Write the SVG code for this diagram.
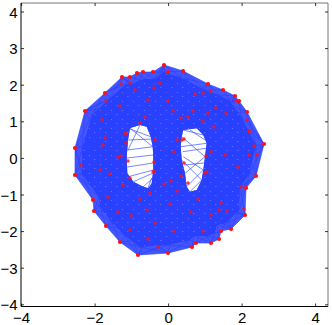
<svg xmlns="http://www.w3.org/2000/svg" width="332" height="325" viewBox="0 0 332 325">
<style>
.ax{stroke:#000;stroke-width:1;fill:none}
.ax2{stroke:#777;stroke-width:1;fill:none}
.tk{stroke:#000;stroke-width:0.8;fill:none}
.lb{font-family:"Liberation Sans",Arial,sans-serif;font-size:15px;fill:#000}
.ring{fill:#2a40ff;fill-opacity:0.88;fill-rule:evenodd}
.core{fill:#2a40ff;fill-rule:evenodd}
.spk{fill:url(#spk);fill-rule:evenodd}
.e{stroke:#2a40ff;stroke-width:0.7;fill:none;stroke-opacity:0.9}
.v{fill:#ff1010}
.w{fill:#ff1010;fill-opacity:0.85}
</style>
<defs>
<pattern id="spk" width="11" height="9" patternUnits="userSpaceOnUse">
<rect x="1" y="2" width="1" height="1" fill="#fff" opacity="0.25"/>
<rect x="6" y="6" width="1.5" height="1" fill="#fff" opacity="0.2"/>
</pattern>
</defs>
<rect width="332" height="325" fill="#fff"/>
<g id="axes">
<line class="ax" x1="21" y1="3" x2="21" y2="306.5"/>
<line class="ax" x1="21" y1="306.5" x2="328" y2="306.5"/>
<line class="ax2" x1="21" y1="3" x2="328" y2="3"/>
<line class="ax2" x1="328" y1="3" x2="328" y2="306.5"/>
<path class="tk" d="M21,12h3M21,48.6h3M21,85.2h3M21,121.8h3M21,158.4h3M21,195h3M21,231.6h3M21,268.2h3M21,304.8h3M328,12h-3M328,48.6h-3M328,85.2h-3M328,121.8h-3M328,158.4h-3M328,195h-3M328,231.6h-3M328,268.2h-3M328,304.8h-3M21.6,306.5v-3M95.1,306.5v-3M168.6,306.5v-3M242.1,306.5v-3M315.6,306.5v-3M21.6,3v3M95.1,3v3M168.6,3v3M242.1,3v3M315.6,3v3"/>
<g class="lb" text-anchor="end">
<text x="17.5" y="17.5">4</text>
<text x="17.5" y="54.1">3</text>
<text x="17.5" y="90.7">2</text>
<text x="17.5" y="127.3">1</text>
<text x="17.5" y="163.9">0</text>
<text x="17.5" y="200.5">−1</text>
<text x="17.5" y="237.1">−2</text>
<text x="17.5" y="273.7">−3</text>
<text x="17.5" y="310.3">−4</text>
</g>
<g class="lb" text-anchor="middle">
<text x="21.6" y="323">−4</text>
<text x="95.1" y="323">−2</text>
<text x="168.6" y="323">0</text>
<text x="242.1" y="323">2</text>
<text x="315.6" y="323">4</text>
</g>
</g>
<g id="connectors">
<path class="ring" d="M164,65 L183,71 L208,84 L223,90 L235,96 L239,101 L247,112 L264,144 L256,176 L246,188 L245,215 L231,229 L221,231 L219,239 L211,243 L196,243 L192,247 L168,253 L138,255 L120,242 L106,226 L94,211 L93,200 L75,175 L75,148 L85,111 L105,93 L122,77 L130,77 L137,73 L143,72 L153,72 Z M140,125 L130,128 L128,140 L126.7,156.7 L127.3,173.3 L133.3,181.7 L143.3,186.7 L148.3,188.3 L151.7,183.3 L153.3,170 L153.3,156.7 L152.7,146.7 L150.7,136.7 L146.7,126.7 Z M183.3,130 L196.7,128.3 L203.3,135 L206.7,143.3 L205,156.7 L203.3,170 L201.7,180 L196.7,190 L190,191.7 L186.7,186.7 L185,173.3 L181.7,160 L180.7,146.7 L181.7,136.7 Z"/>
<path class="core" d="M164,72 L182,78 L205,90 L219,95 L230,101 L233,106 L241,116 L256,145 L249,175 L240,186 L239,210 L226,223 L217,225 L215,233 L208,236 L194,236 L190,240 L168,245 L140,247 L124,235 L111,221 L100,207 L99,197 L82,174 L82,149 L92,115 L110,98 L126,84 L133,84 L140,80 L145,79 L154,79 Z M140,125 L130,128 L128,140 L126.7,156.7 L127.3,173.3 L133.3,181.7 L143.3,186.7 L148.3,188.3 L151.7,183.3 L153.3,170 L153.3,156.7 L152.7,146.7 L150.7,136.7 L146.7,126.7 Z M183.3,130 L196.7,128.3 L203.3,135 L206.7,143.3 L205,156.7 L203.3,170 L201.7,180 L196.7,190 L190,191.7 L186.7,186.7 L185,173.3 L181.7,160 L180.7,146.7 L181.7,136.7 Z"/>
<path class="spk" d="M164,72 L182,78 L205,90 L219,95 L230,101 L233,106 L241,116 L256,145 L249,175 L240,186 L239,210 L226,223 L217,225 L215,233 L208,236 L194,236 L190,240 L168,245 L140,247 L124,235 L111,221 L100,207 L99,197 L82,174 L82,149 L92,115 L110,98 L126,84 L133,84 L140,80 L145,79 L154,79 Z M140,125 L130,128 L128,140 L126.7,156.7 L127.3,173.3 L133.3,181.7 L143.3,186.7 L148.3,188.3 L151.7,183.3 L153.3,170 L153.3,156.7 L152.7,146.7 L150.7,136.7 L146.7,126.7 Z M183.3,130 L196.7,128.3 L203.3,135 L206.7,143.3 L205,156.7 L203.3,170 L201.7,180 L196.7,190 L190,191.7 L186.7,186.7 L185,173.3 L181.7,160 L180.7,146.7 L181.7,136.7 Z"/>
<path class="e" d="M164,65L183,71L208,84L223,90L235,96L239,101L247,112L264,144L256,176L246,188L245,215L231,229L221,231L219,239L211,243L196,243L192,247L168,253L138,255L120,242L106,226L94,211L93,200L75,175L75,148L85,111L105,93L122,77L130,77L137,73L143,72L153,72Z
M164,65L154,79M164,65L182,78M183,71L164,72M183,71L205,90M208,84L182,78M208,84L219,95M223,90L205,90M223,90L230,101M235,96L219,95M235,96L233,106M239,101L230,101M239,101L241,116M247,112L233,106M247,112L256,145M264,144L241,116M264,144L249,175M256,176L256,145M256,176L240,186M246,188L249,175M246,188L239,210M245,215L240,186M245,215L226,223M231,229L239,210M231,229L217,225M221,231L226,223M221,231L215,233M219,239L217,225M219,239L208,236M211,243L215,233M211,243L194,236M196,243L208,236M196,243L190,240M192,247L194,236M192,247L168,245M168,253L190,240M168,253L140,247M138,255L168,245M138,255L124,235M120,242L140,247M120,242L111,221M106,226L124,235M106,226L100,207M94,211L111,221M94,211L99,197M93,200L100,207M93,200L82,174M75,175L99,197M75,175L82,149M75,148L82,174M75,148L92,115M85,111L82,149M85,111L110,98M105,93L92,115M105,93L126,84M122,77L110,98M122,77L133,84M130,77L126,84M130,77L140,80M137,73L133,84M137,73L145,79M143,72L140,80M143,72L154,79M153,72L145,79M153,72L164,72
M264,144L249,131M264,144L254,146M264,144L257,155M264,144L249,155M264,144L247,120M256,176L249,155M256,176L241,187M256,176L238,167M246,188L241,187M246,188L238,167M246,188L227,211M245,215L227,211M245,215L221,203M245,215L244,209M245,215L219,210M231,229L211,215M231,229L219,210M231,229L227,211M211,243L203,231M192,247L174,231M192,247L203,231M168,253L158,247M168,253L148,239M168,253L174,231M138,255L148,239M138,255L158,247M138,255L130,230M138,255L155,223M120,242L130,230M120,242L148,239M106,226L130,230M106,226L118,212M106,226L131,216M94,211L118,212M94,211L108,197M75,175L81,165M75,175L100,170M75,175L110,174M75,175L108,197M75,148L81,165M75,148L100,170M75,148L103,145M75,148L105,138M75,148L102,120M85,111L102,120M85,111L106,101M85,111L120,106M85,111L103,145M105,93L120,106M105,93L106,101M105,93L121,84M122,77L121,84M122,77L135,90M122,77L148,100M164,65L160,83M164,65L154,88M164,65L168,101M183,71L195,94M183,71L168,101M208,84L203,93M208,84L211,91M208,84L195,94M235,96L216,108M235,96L226,113M247,112L226,113M247,112L236,101M247,112L247,120
M130,129L150.7,136.7M128.3,140L152.7,139M127.3,150L153.3,146.7M126.7,158L153.3,155M127.3,167L153.3,163M128.3,176.7L153.3,170M133.3,181.7L152.7,173.3M143,187L153,178M148,188L151.7,178M140,125L128,150M130,128L152.7,146.7
M181.7,136.7L205,156.7M180.7,146.7L206.7,143.3M183.3,156.7L203.3,170M185,173.3L205,156.7M186.7,186.7L203.3,170M181.7,160L201.7,180M182.7,151.7L206,148.3M190,130L205,140M190,191.7L201.7,180M184,165L204,163M183.3,130L203.3,135"/>
</g>
<g id="nodes">
<g id="n1"><circle class="v" cx="164" cy="65" r="2.1"/></g>
<g id="n2"><circle class="v" cx="183" cy="71" r="2.1"/></g>
<g id="n3"><circle class="v" cx="208" cy="84" r="2.1"/></g>
<g id="n4"><circle class="v" cx="223" cy="90" r="2.1"/></g>
<g id="n5"><circle class="v" cx="235" cy="96" r="2.1"/></g>
<g id="n6"><circle class="v" cx="239" cy="101" r="2.1"/></g>
<g id="n7"><circle class="v" cx="247" cy="112" r="2.1"/></g>
<g id="n8"><circle class="v" cx="264" cy="144" r="2.1"/></g>
<g id="n9"><circle class="v" cx="256" cy="176" r="2.1"/></g>
<g id="n10"><circle class="v" cx="246" cy="188" r="2.1"/></g>
<g id="n11"><circle class="v" cx="245" cy="215" r="2.1"/></g>
<g id="n12"><circle class="v" cx="231" cy="229" r="2.1"/></g>
<g id="n13"><circle class="v" cx="221" cy="231" r="2.1"/></g>
<g id="n14"><circle class="v" cx="219" cy="239" r="2.1"/></g>
<g id="n15"><circle class="v" cx="211" cy="243" r="2.1"/></g>
<g id="n16"><circle class="v" cx="196" cy="243" r="2.1"/></g>
<g id="n17"><circle class="v" cx="192" cy="247" r="2.1"/></g>
<g id="n18"><circle class="v" cx="168" cy="253" r="2.1"/></g>
<g id="n19"><circle class="v" cx="138" cy="255" r="2.1"/></g>
<g id="n20"><circle class="v" cx="120" cy="242" r="2.1"/></g>
<g id="n21"><circle class="v" cx="106" cy="226" r="2.1"/></g>
<g id="n22"><circle class="v" cx="94" cy="211" r="2.1"/></g>
<g id="n23"><circle class="v" cx="93" cy="200" r="2.1"/></g>
<g id="n24"><circle class="v" cx="75" cy="175" r="2.1"/></g>
<g id="n25"><circle class="v" cx="75" cy="148" r="2.1"/></g>
<g id="n26"><circle class="v" cx="85" cy="111" r="2.1"/></g>
<g id="n27"><circle class="v" cx="105" cy="93" r="2.1"/></g>
<g id="n28"><circle class="v" cx="122" cy="77" r="2.1"/></g>
<g id="n29"><circle class="v" cx="130" cy="77" r="2.1"/></g>
<g id="n30"><circle class="v" cx="137" cy="73" r="2.1"/></g>
<g id="n31"><circle class="v" cx="143" cy="72" r="2.1"/></g>
<g id="n32"><circle class="v" cx="153" cy="72" r="2.1"/></g>
<g id="n33"><circle class="v" cx="168" cy="72" r="2"/></g>
<g id="n34"><circle class="v" cx="249" cy="131" r="2"/></g>
<g id="n35"><circle class="w" cx="121" cy="84" r="1.7"/></g>
<g id="n36"><circle class="w" cx="130" cy="83" r="1.7"/></g>
<g id="n37"><circle class="w" cx="148" cy="100" r="1.7"/></g>
<g id="n38"><circle class="w" cx="120" cy="106" r="1.7"/></g>
<g id="n39"><circle class="w" cx="106" cy="101" r="1.7"/></g>
<g id="n40"><circle class="w" cx="102" cy="120" r="1.7"/></g>
<g id="n41"><circle class="w" cx="145" cy="117" r="1.7"/></g>
<g id="n42"><circle class="w" cx="126" cy="134" r="1.7"/></g>
<g id="n43"><circle class="w" cx="105" cy="138" r="1.7"/></g>
<g id="n44"><circle class="w" cx="155" cy="140" r="1.7"/></g>
<g id="n45"><circle class="w" cx="103" cy="145" r="1.7"/></g>
<g id="n46"><circle class="w" cx="121" cy="156" r="1.7"/></g>
<g id="n47"><circle class="w" cx="118" cy="157" r="1.7"/></g>
<g id="n48"><circle class="w" cx="135" cy="90" r="1.7"/></g>
<g id="n49"><circle class="w" cx="160" cy="83" r="1.7"/></g>
<g id="n50"><circle class="w" cx="168" cy="101" r="1.7"/></g>
<g id="n51"><circle class="w" cx="154" cy="88" r="1.7"/></g>
<g id="n52"><circle class="w" cx="173" cy="111" r="1.7"/></g>
<g id="n53"><circle class="w" cx="193" cy="111" r="1.7"/></g>
<g id="n54"><circle class="w" cx="208" cy="113" r="1.7"/></g>
<g id="n55"><circle class="w" cx="226" cy="113" r="1.7"/></g>
<g id="n56"><circle class="w" cx="203" cy="121" r="1.7"/></g>
<g id="n57"><circle class="w" cx="214" cy="127" r="1.7"/></g>
<g id="n58"><circle class="w" cx="247" cy="120" r="1.7"/></g>
<g id="n59"><circle class="w" cx="225" cy="155" r="1.7"/></g>
<g id="n60"><circle class="w" cx="211" cy="152" r="1.7"/></g>
<g id="n61"><circle class="w" cx="174" cy="152" r="1.7"/></g>
<g id="n62"><circle class="w" cx="177" cy="140" r="1.7"/></g>
<g id="n63"><circle class="w" cx="184" cy="139" r="1.7"/></g>
<g id="n64"><circle class="w" cx="249" cy="155" r="1.7"/></g>
<g id="n65"><circle class="w" cx="254" cy="146" r="1.7"/></g>
<g id="n66"><circle class="w" cx="257" cy="155" r="1.7"/></g>
<g id="n67"><circle class="w" cx="203" cy="93" r="1.7"/></g>
<g id="n68"><circle class="w" cx="211" cy="91" r="1.7"/></g>
<g id="n69"><circle class="w" cx="195" cy="94" r="1.7"/></g>
<g id="n70"><circle class="w" cx="181" cy="118" r="1.7"/></g>
<g id="n71"><circle class="w" cx="188" cy="117" r="1.7"/></g>
<g id="n72"><circle class="w" cx="216" cy="108" r="1.7"/></g>
<g id="n73"><circle class="w" cx="236" cy="101" r="1.7"/></g>
<g id="n74"><circle class="w" cx="154" cy="162" r="1.7"/></g>
<g id="n75"><circle class="w" cx="154" cy="171" r="1.7"/></g>
<g id="n76"><circle class="w" cx="130" cy="178" r="1.7"/></g>
<g id="n77"><circle class="w" cx="110" cy="174" r="1.7"/></g>
<g id="n78"><circle class="w" cx="100" cy="170" r="1.7"/></g>
<g id="n79"><circle class="w" cx="81" cy="165" r="1.7"/></g>
<g id="n80"><circle class="w" cx="123" cy="185" r="1.7"/></g>
<g id="n81"><circle class="w" cx="147" cy="210" r="1.7"/></g>
<g id="n82"><circle class="w" cx="140" cy="199" r="1.7"/></g>
<g id="n83"><circle class="w" cx="131" cy="216" r="1.7"/></g>
<g id="n84"><circle class="w" cx="118" cy="212" r="1.7"/></g>
<g id="n85"><circle class="w" cx="130" cy="230" r="1.7"/></g>
<g id="n86"><circle class="w" cx="148" cy="239" r="1.7"/></g>
<g id="n87"><circle class="w" cx="158" cy="247" r="1.7"/></g>
<g id="n88"><circle class="w" cx="150" cy="193" r="1.7"/></g>
<g id="n89"><circle class="w" cx="164" cy="184" r="1.7"/></g>
<g id="n90"><circle class="w" cx="155" cy="223" r="1.7"/></g>
<g id="n91"><circle class="w" cx="108" cy="197" r="1.7"/></g>
<g id="n92"><circle class="w" cx="184" cy="163" r="1.7"/></g>
<g id="n93"><circle class="w" cx="205" cy="173" r="1.7"/></g>
<g id="n94"><circle class="w" cx="188" cy="183" r="1.7"/></g>
<g id="n95"><circle class="w" cx="198" cy="199" r="1.7"/></g>
<g id="n96"><circle class="w" cx="211" cy="215" r="1.7"/></g>
<g id="n97"><circle class="w" cx="219" cy="210" r="1.7"/></g>
<g id="n98"><circle class="w" cx="227" cy="211" r="1.7"/></g>
<g id="n99"><circle class="w" cx="221" cy="203" r="1.7"/></g>
<g id="n100"><circle class="w" cx="203" cy="231" r="1.7"/></g>
<g id="n101"><circle class="w" cx="174" cy="231" r="1.7"/></g>
<g id="n102"><circle class="w" cx="241" cy="187" r="1.7"/></g>
<g id="n103"><circle class="w" cx="238" cy="167" r="1.7"/></g>
<g id="n104"><circle class="w" cx="244" cy="209" r="1.7"/></g>
<g id="n105"><circle class="w" cx="177" cy="191" r="1.7"/></g>
<g id="n106"><circle class="w" cx="170" cy="204" r="1.7"/></g>
<g id="n107"><circle class="w" cx="191" cy="212" r="1.7"/></g>
<g id="n108"><circle class="w" cx="181" cy="176" r="1.7"/></g>
<g id="n109"><circle class="w" cx="171" cy="181" r="1.7"/></g>
<g id="n110"><circle class="w" cx="125" cy="133" r="1.7"/></g>
<g id="n111"><circle class="w" cx="126" cy="143" r="1.7"/></g>
<g id="n112"><circle class="w" cx="128" cy="161" r="1.7"/></g>
<g id="n113"><circle class="w" cx="153" cy="172" r="1.7"/></g>
<g id="n114"><circle class="w" cx="207" cy="172" r="1.7"/></g>
<g id="n115"><circle class="w" cx="182" cy="140" r="1.7"/></g>
<g id="n116"><circle class="w" cx="206" cy="156" r="1.7"/></g>
<g id="n117"><circle class="w" cx="140" cy="123" r="1.7"/></g>
</g>
</svg>
